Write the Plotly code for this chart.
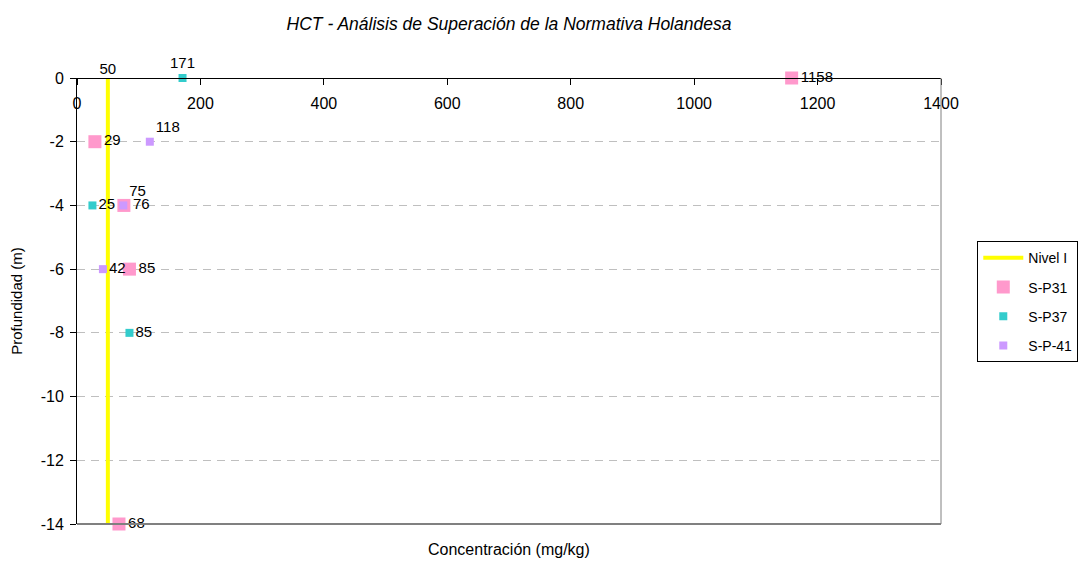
import plotly.graph_objects as go

# values
nivel_x = [50, 50]
nivel_y = [0, -14]
nivel_text = ["50", ""]

p31_x = [1158, 29, 76, 85, 68]
p31_y = [0, -2, -4, -6, -14]

p37_x = [171, 25, 85]
p37_y = [0, -4, -8]

p41_x = [118, 75, 42]
p41_y = [-2, -4, -6]

x_ticks = [0, 200, 400, 600, 800, 1000, 1200, 1400]
y_ticks = [0, -2, -4, -6, -8, -10, -12, -14]
y_tick_labels = ["0", "-2", "-4", "-6", "-8", "-10", "-12", "-14"]

FONT = "Arial, Liberation Sans, sans-serif"

fig = go.Figure()

fig.add_trace(go.Scatter(
    x=nivel_x, y=nivel_y, name="Nivel I", mode="lines+text",
    text=nivel_text, textposition="top center",
    line={"color": "#FFFF00", "width": 4},
    textfont={"size": 15, "color": "#000000"},
    legendgroup="a", cliponaxis=False,
))
fig.add_trace(go.Scatter(
    x=p31_x, y=p31_y, name="S-P31", mode="markers+text",
    text=[str(v) for v in p31_x], textposition="middle right",
    marker={"symbol": "square", "size": 13, "color": "#FF99CC"},
    textfont={"size": 15, "color": "#000000"},
    legendgroup="b", cliponaxis=False,
))
fig.add_trace(go.Scatter(
    x=p37_x, y=p37_y, name="S-P37", mode="markers+text",
    text=[str(v) for v in p37_x],
    textposition=["top center", "middle right", "middle right"],
    marker={"symbol": "square", "size": 8, "color": "#33CCCC"},
    textfont={"size": 15, "color": "#000000"},
    legendgroup="c", cliponaxis=False,
))
fig.add_trace(go.Scatter(
    x=p41_x, y=p41_y, name="S-P-41", mode="markers+text",
    text=[str(v) for v in p41_x],
    textposition=["top right", "top right", "middle right"],
    marker={"symbol": "square", "size": 8, "color": "#CC99FF"},
    textfont={"size": 15, "color": "#000000"},
    legendgroup="d", cliponaxis=False,
))

fig.update_layout(
    width=1083, height=563,
    margin={"l": 77, "r": 142, "t": 78, "b": 39, "autoexpand": False},
    paper_bgcolor="#FFFFFF", plot_bgcolor="#FFFFFF",
    font={"family": FONT, "color": "#000000", "size": 15},
    title={
        "text": "<i>HCT - Análisis de Superación de la Normativa Holandesa</i>",
        "x": 0.5, "xref": "paper", "xanchor": "center",
        "y": 0.957, "yref": "container", "yanchor": "middle",
        "font": {"size": 17.5},
    },
    showlegend=True,
    legend={
        "x": 1.042, "xanchor": "left", "y": 0.634, "yanchor": "top",
        "bordercolor": "#000000", "borderwidth": 1,
        "font": {"size": 14}, "itemwidth": 40,
        "tracegroupgap": 8,
    },
    annotations=[{
        "text": "Concentración (mg/kg)", "showarrow": False,
        "xref": "paper", "yref": "paper", "x": 0.5, "y": -0.058,
        "xanchor": "center", "yanchor": "middle", "font": {"size": 16},
    }],
    shapes=[
        {"type": "line", "xref": "x domain", "yref": "y domain",
         "x0": 0, "x1": 1, "y0": 0, "y1": 0,
         "line": {"color": "#808080", "width": 2}},
        {"type": "line", "xref": "x domain", "yref": "y domain",
         "x0": 1, "x1": 1, "y0": 0, "y1": 1,
         "line": {"color": "#808080", "width": 1}},
    ],
)

# x axis drawn along the top edge (depth 0) with labels below the line
fig.update_xaxes(
    range=[0, 1400], tickvals=x_ticks,
    anchor="free", position=1, side="bottom",
    ticks="outside", ticklen=6, tickcolor="#000000",
    tickfont={"size": 16}, ticklabelstandoff=5,
    showline=True, linecolor="#000000", linewidth=1,
    showgrid=False, zeroline=False,
)
fig.update_yaxes(
    range=[-14, 0], tickvals=y_ticks, ticktext=y_tick_labels,
    ticks="outside", ticklen=6, tickcolor="#000000",
    tickfont={"size": 16}, ticklabelstandoff=3,
    showline=True, linecolor="#000000", linewidth=1,
    showgrid=True, gridcolor="#BFBFBF", griddash="8px,6px",
    zeroline=False,
    title={"text": "Profundidad (m)", "font": {"size": 15}, "standoff": 14},
)

fig.write_html(
    "out.html",
    config={"displayModeBar": False},
    post_script="document.body.style.margin='0';",
)
